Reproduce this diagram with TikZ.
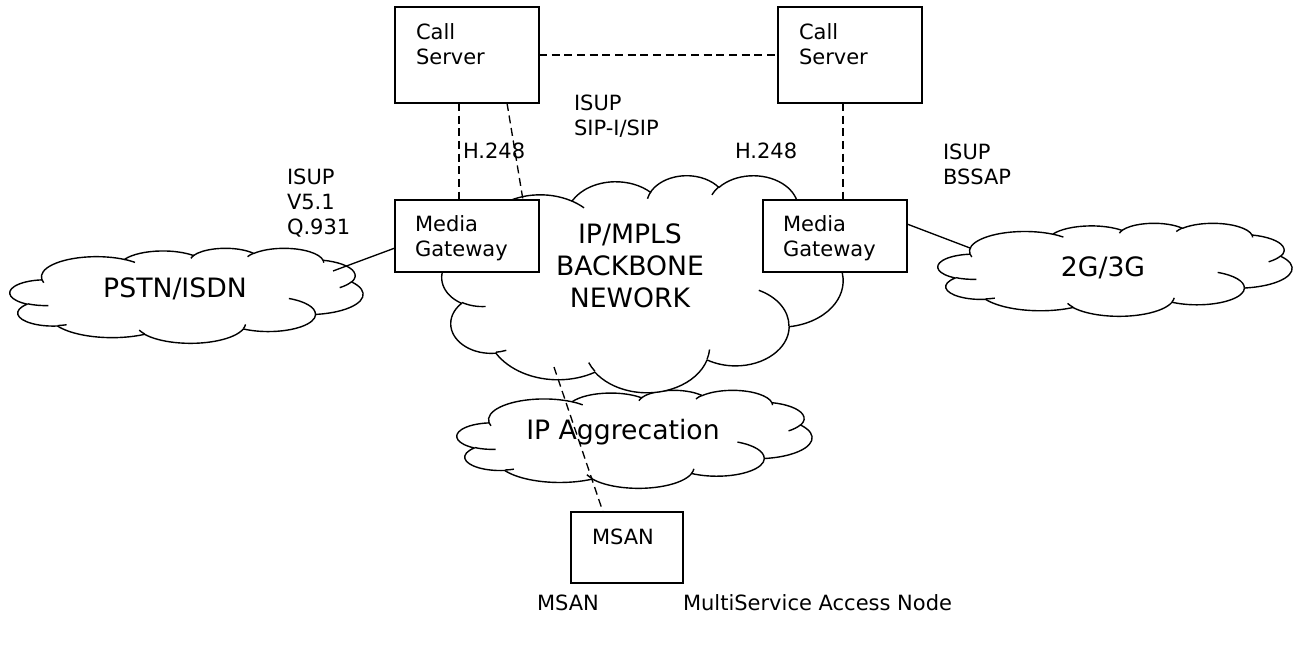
\documentclass[tikz,border=0pt]{standalone}
\usepackage{fontspec}
\setmainfont{DejaVu Sans}
\usetikzlibrary{calc}

% one arc of an OOXML-style arcTo (visual angles, y down)
\newcommand\carc[4]{%
  \pgfmathsetmacro\cta{atan2((#1)*sin(#3),(#2)*cos(#3))}%
  \pgfmathsetmacro\ctb{atan2((#1)*sin((#3)+(#4)),(#2)*cos((#3)+(#4)))}%
  \pgfmathsetmacro\ctb{\ctb+360*and((#4)>0,\ctb<\cta)-360*and((#4)<0,\ctb>\cta)}%
  \pgfpatharcaxes{\cta}{\ctb}{\pgfpointxy{#1}{0}}{\pgfpointxy{0}{#2}}%
}
% cloud in a box: left x, top y, width, height (px, y down)
\newcommand\ocloud[4]{%
  \begin{scope}[shift={(#1,#2)}]
  \pgfmathsetmacro\cwx{#3/576}%
  \pgfmathsetmacro\chy{#4/576}%
  \pgfsetxvec{\pgfpoint{\cwx pt}{0pt}}%
  \pgfsetyvec{\pgfpoint{0pt}{-\chy pt}}%
  \pgfsetlinewidth{1.05pt}%
  \pgfsetroundjoin
  \pgfpathmoveto{\pgfpointxy{39.00}{143.70}}%
  \carc{67.53}{91.90}{-190.4875}{123.7805}%
  \carc{53.33}{72.67}{-144.1024}{89.9452}%
  \carc{43.65}{59.45}{-145.8079}{99.7230}%
  \carc{48.57}{65.95}{-130.9861}{117.2417}%
  \carc{53.33}{72.73}{-78.7089}{109.0269}%
  \carc{67.75}{92.20}{-46.2673}{130.2690}%
  \carc{57.85}{78.67}{0.6250}{114.0333}%
  \carc{67.52}{92.15}{22.4516}{115.1726}%
  \carc{77.20}{105.43}{66.2426}{75.7110}%
  \carc{43.60}{59.18}{-274.9421}{146.7356}%
  \carc{43.45}{59.45}{-246.8285}{152.5189}%
  \pgfpathclose
  \pgfsetfillcolor{white}%
  \pgfusepath{fill,stroke}%
  \pgfpathmoveto{\pgfpointxy{46.93}{261.77}}\carc{43.45}{59.45}{86.7420}{26.4295}%
  \pgfpathmoveto{\pgfpointxy{69.28}{348.99}}\carc{43.60}{59.18}{73.6105}{11.4475}%
  \pgfpathmoveto{\pgfpointxy{164.78}{390.90}}\carc{67.52}{92.15}{137.6242}{14.0811}%
  \pgfpathmoveto{\pgfpointxy{288.27}{347.51}}\carc{67.52}{92.15}{6.4533}{15.9984}%
  \pgfpathmoveto{\pgfpointxy{341.29}{229.54}}\carc{57.85}{78.67}{-70.2924}{70.9174}%
  \pgfpathmoveto{\pgfpointxy{417.98}{153.54}}\carc{53.33}{72.73}{30.3180}{27.7515}%
  \pgfpathmoveto{\pgfpointxy{383.24}{54.26}}\carc{48.57}{65.95}{-13.7443}{14.8589}%
  \pgfpathmoveto{\pgfpointxy{290.78}{39.52}}\carc{48.57}{65.95}{-149.1815}{18.1954}%
  \pgfpathmoveto{\pgfpointxy{221.41}{47.20}}\carc{43.65}{59.45}{-163.4943}{19.0155}%
  \pgfpathmoveto{\pgfpointxy{140.00}{51.92}}\carc{67.53}{91.90}{-66.7070}{12.3194}%
  \pgfpathmoveto{\pgfpointxy{41.27}{157.89}}\carc{67.53}{91.90}{157.6544}{11.8582}%
  \pgfusepath{stroke}%
  \end{scope}}

\tikzset{
  small/.style={font=\fontsize{15.75pt}{18.75pt}\selectfont},
  big/.style={font=\fontsize{20pt}{24pt}\selectfont},
  lbl/.style={small, inner sep=0pt, outer sep=0pt, align=left, anchor=north west},
  biglbl/.style={big, inner sep=0pt, outer sep=0pt, align=center, anchor=north},
  box/.style={draw, fill=white, line width=1pt, inner sep=0pt, outer sep=0pt,
    anchor=north west, minimum width=108pt},
  csbox/.style={box, minimum height=72pt},
  mgbox/.style={box, minimum height=54pt},
  dsh/.style={line width=1pt, dash pattern=on 6pt off 3.5pt},
  ln/.style={line width=1pt},
}

\begin{document}
\begin{tikzpicture}[x=0.75pt, y=-0.75pt]
\useasboundingbox (0,0) rectangle (1300,645);

% clouds
\ocloud{10}{248}{353}{95}
\ocloud{938}{223}{354}{93}
\ocloud{457}{390}{355}{98}
\ocloud{442}{175}{401}{217}

% anchor points inside clouds
\coordinate (pstnin) at (333,271);
\coordinate (gin) at (970,248);
\coordinate (bbbot) at (554,367);
\coordinate (v1) at (459,0);
\coordinate (v2) at (843,0);

% boxes
\node[csbox] (cs1) at (395,7) {};
\node[csbox] (cs2) at (778,7) {};
\node[mgbox] (mg1) at (395,200) {};
\node[mgbox] (mg2) at (763,200) {};
\node[box, minimum width=84pt, minimum height=53.25pt] (msan) at (571,512) {};

% connectors
\draw[dsh] (cs1.east) -- (cs2.west);
\draw[dsh] (v1 |- cs1.south) -- (v1 |- mg1.north);
\draw[dsh] (v2 |- cs2.south) -- (v2 |- mg2.north);
\draw[dsh] ($(cs1.south west)+(112,0)$) -- ($(mg1.north west)+(128,0)$);
\draw[dsh] (bbbot) -- ($(msan.north west)+(32,0)$);
\draw[ln] ($(mg1.south west)+(0,-24)$) -- (pstnin);
\draw[ln] ($(mg2.north east)+(0,24)$) -- (gin);

% box texts
\node[lbl] (tcs1) at (416,22.5) {\strut Call\\Server};
\node[lbl] (tcs2) at (799,22.5) {\strut Call\\Server};
\node[lbl] (tmg1) at (415,214) {\strut Media\\Gateway};
\node[lbl] (tmg2) at (783,214) {\strut Media\\Gateway};
\node[lbl] (tmsan) at (592,526.5) {\strut MSAN};

% protocol labels
\node[lbl] (p1) at (574,93) {\strut ISUP\\SIP-I/SIP};
\node[lbl] (p2) at (463,141) {\strut H.248};
\node[lbl] (p3) at (735,141) {\strut H.248};
\node[lbl] (p4) at (287,167) {\strut ISUP\\V5.1\\Q.931};
\node[lbl] (p5) at (943,142.5) {\strut ISUP\\BSSAP};

% cloud labels
\node[biglbl] (lpstn) at (175,275) {\strut PSTN/ISDN};
\node[biglbl] (lbb) at (630,221) {\strut IP/MPLS\\BACKBONE\\NEWORK};
\node[biglbl] (lagg) at (623,417) {\strut IP Aggrecation};
\node[biglbl] (lg) at (1103,254) {\strut 2G/3G};

% legend
\node[lbl] (k1) at (537,593) {\strut MSAN};
\node[lbl] (k2) at (683,593) {\strut MultiService Access Node};
\end{tikzpicture}
\end{document}
